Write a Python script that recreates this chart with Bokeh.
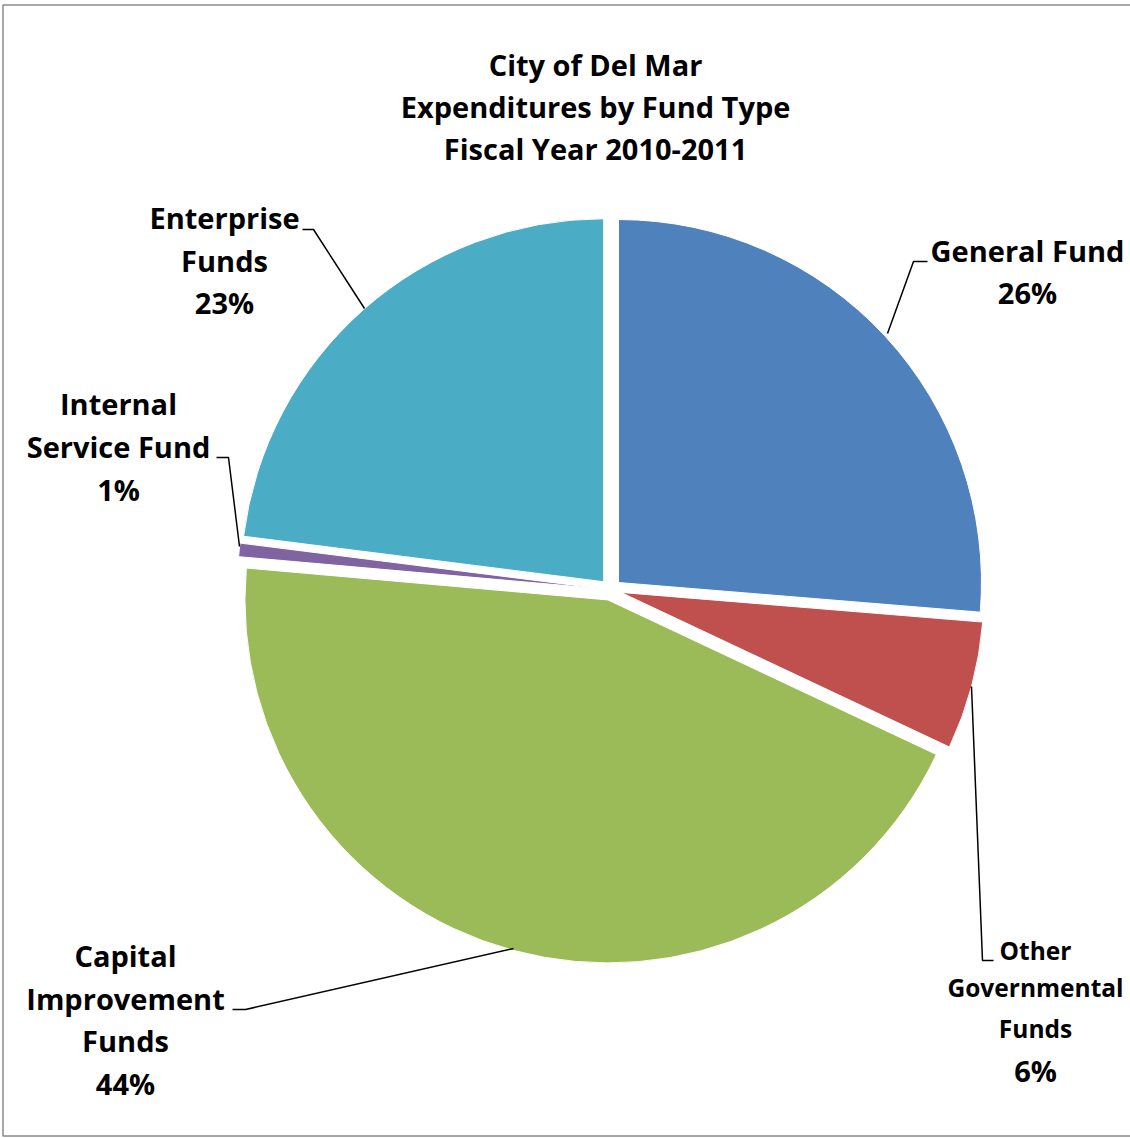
import math
from bokeh.plotting import figure
from bokeh.models import Range1d
from bokeh.core.properties import value
from bokeh.embed import file_html
from bokeh.resources import INLINE

# ---------------- data ----------------
categories = ["General Fund", "Other Governmental Funds", "Capital Improvement Funds",
              "Internal Service Fund", "Enterprise Funds"]
shares = [26.3, 5.7, 44.4, 0.6, 23.0]          # percent of expenditures
colors = ["#4F81BD", "#C0504D", "#9BBB59", "#8064A2", "#4BACC6"]
title_lines = ["City of Del Mar", "Expenditures by Fund Type", "Fiscal Year 2010-2011"]

# label text lines (name lines), percent added from data
label_names = [["General Fund"], ["Other", "Governmental", "Funds"], ["Capital", "Improvement", "Funds"],
               ["Internal", "Service Fund"], ["Enterprise", "Funds"]]

# ---------------- layout (screen px, y down) ----------------
W, H = 1130, 1138
CX, CY = 610.2, 589.2      # pie centre
R = 363                    # radius
EXPLODE = 10.6
FONT = "Open Sans"
BIG = "29px"
SMALL = "24.5px"
DY = -1.5                  # vertical text nudge

# label block: (center x, list of line y's, list of sizes)
label_layout = [
    (1027, [251, 293], [BIG, BIG]),
    (1035, [951, 988, 1029, 1071], [SMALL, SMALL, SMALL, BIG]),
    (125, [956, 999, 1041, 1084], [BIG, BIG, BIG, BIG]),
    (118, [404, 447, 490], [BIG, BIG, BIG]),
    (224, [218, 261, 303], [BIG, BIG, BIG]),
]
leaders = [
    [(927, 261), (913, 261), (887, 333)],
    [(993, 960), (982, 960), (971, 686)],
    [(232, 1009), (245, 1009), (513, 948)],
    [(216, 457), (228, 457), (239, 546)],
    [(302, 229), (313, 229), (364, 308)],
]


def Y(s):
    return H - s


p = figure(width=W, height=H, x_range=Range1d(0, W), y_range=Range1d(0, H),
           output_backend="svg", toolbar_location=None, min_border=0,
           x_axis_location=None, y_axis_location=None)
p.grid.visible = False
p.outline_line_color = None
p.background_fill_color = "white"
p.border_fill_color = "white"

# chart border
p.quad(left=[2.5], right=[W + 5], bottom=[Y(1135.5)], top=[Y(4.5)],
       fill_color=None, line_color="#8a8a8a", line_width=1.5)

# wedges
total = sum(shares)
cum = 0.0
for val, col in zip(shares, colors):
    a0 = cum / total * 360.0
    a1 = (cum + val) / total * 360.0
    cum += val
    start = math.radians(90 - a0)
    end = math.radians(90 - a1)
    mid = math.radians(90 - (a0 + a1) / 2)
    x = CX + EXPLODE * math.cos(mid)
    y = Y(CY) + EXPLODE * math.sin(mid)
    p.wedge(x=[x], y=[y], radius=R, start_angle=start, end_angle=end,
            direction="clock", fill_color=col, line_color="white", line_width=1)

# leader lines
for pts in leaders:
    p.line(x=[q[0] for q in pts], y=[Y(q[1]) for q in pts], line_color="black", line_width=1.5)

# title
for i, t in enumerate(title_lines):
    p.text(x=[595], y=[Y(65 + 42 * i + DY)], text=[t], text_align="center", text_baseline="middle",
           text_font=value(FONT), text_font_style="bold", text_font_size=BIG, text_color="black")

# data labels
for names, val, (lx, ys, sizes) in zip(label_names, shares, label_layout):
    lines = names + [f"{round(val)}%"]
    for t, yy, sz in zip(lines, ys, sizes):
        p.text(x=[lx], y=[Y(yy + DY)], text=[t], text_align="center", text_baseline="middle",
               text_font=value(FONT), text_font_style="bold", text_font_size=sz, text_color="black")

open("out.html", "w").write(file_html(p, INLINE))
